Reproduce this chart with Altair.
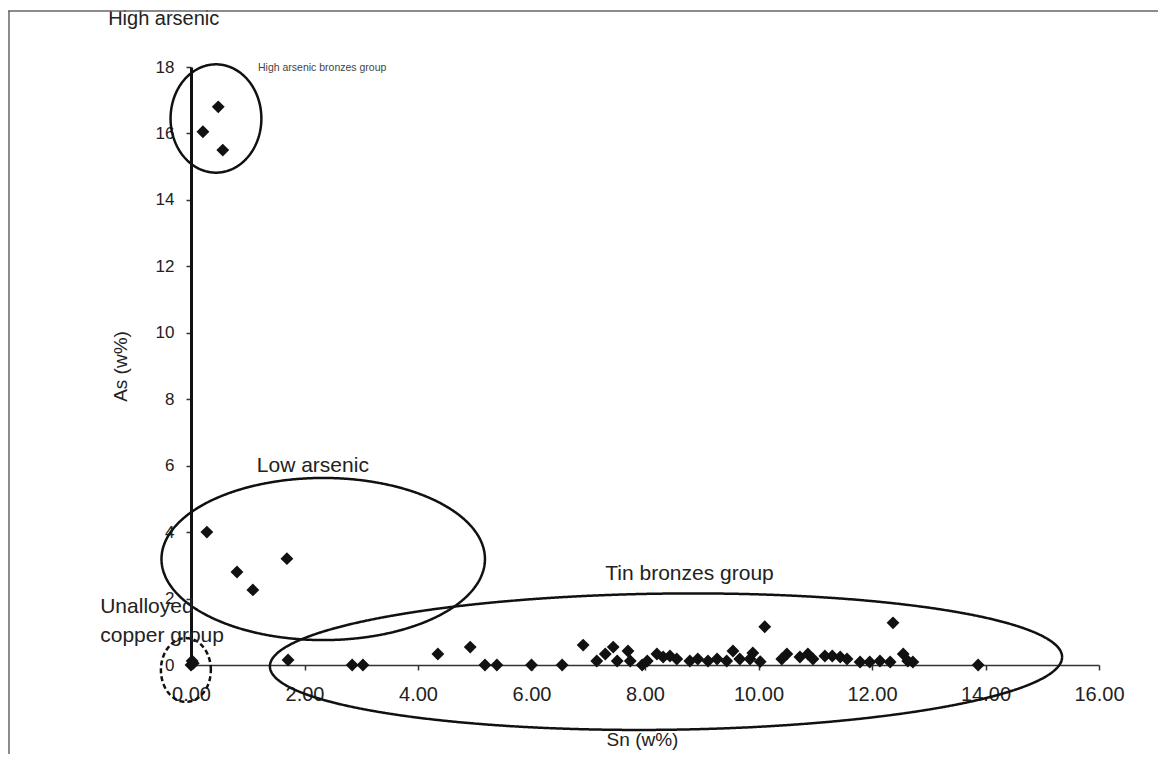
import altair as alt
import numpy as np
import pandas as pd

# ---- data ----
high_sn = [0.48, 0.21, 0.56]
high_as = [16.80, 16.05, 15.50]

low_sn = [0.28, 0.81, 1.09, 1.69]
low_as = [4.00, 2.80, 2.26, 3.20]

unal_sn = [0.00, 0.04, 0.02]
unal_as = [0.00, 0.05, 0.12]

tin_sn = [1.71, 2.84, 3.03, 4.35, 4.92, 5.18, 5.39, 6.00, 6.54, 6.91,
          7.15, 7.30, 7.44, 7.51, 7.70, 7.74, 7.95, 8.04, 8.21, 8.32,
          8.44, 8.56, 8.79, 8.93, 9.11, 9.27, 9.44, 9.55, 9.67, 9.85,
          9.90, 10.03, 10.11, 10.41, 10.50, 10.73, 10.87, 10.96, 11.17, 11.30,
          11.44, 11.56, 11.79, 11.96, 12.14, 12.32, 12.37, 12.55, 12.63, 12.72,
          13.87]
tin_as = [0.15, 0.00, 0.00, 0.33, 0.54, 0.00, 0.00, 0.00, 0.00, 0.60,
          0.12, 0.33, 0.54, 0.12, 0.42, 0.12, 0.00, 0.12, 0.33, 0.24,
          0.27, 0.18, 0.12, 0.18, 0.12, 0.18, 0.12, 0.42, 0.18, 0.18,
          0.36, 0.10, 1.15, 0.18, 0.33, 0.24, 0.33, 0.18, 0.27, 0.27,
          0.24, 0.18, 0.09, 0.09, 0.12, 0.09, 1.27, 0.33, 0.12, 0.09,
          0.00]

x_ticks = [0, 2, 4, 6, 8, 10, 12, 14, 16]
y_ticks = [0, 2, 4, 6, 8, 10, 12, 14, 16, 18]

# group ellipses (annotation outlines, in data units)
ell_names = ["high", "low", "unalloyed", "tin"]
ell_cx = [0.44, 2.33, -0.09, 8.37]
ell_cy = [16.45, 3.19, -0.15, 0.10]
ell_a = [0.80, 2.85, 0.44, 6.98]
ell_b = [1.63, 2.44, 0.96, 2.05]
ell_shear = [0.0, 0.0, 0.0, 0.02]

# annotation labels
lab_text = ["High arsenic", "High arsenic bronzes group", "Low arsenic",
            "Tin bronzes group", "Unalloyed", "copper group"]
lab_x = [-1.46, 1.18, 1.16, 7.30, -1.60, -1.60]
lab_y = [19.45, 17.98, 6.00, 2.74, 1.75, 0.87]
lab_size = [20, 10.5, 21, 21, 21, 21]
lab_color = ["#222222", "#444444", "#222222", "#222222", "#222222", "#222222"]

# ---- tables ----
pts = pd.DataFrame({
    "Sn": high_sn + low_sn + unal_sn + tin_sn,
    "As": high_as + low_as + unal_as + tin_as,
})

rows = []
t = np.linspace(0, 2 * np.pi, 241)
for n, cx, cy, a, b, k in zip(ell_names, ell_cx, ell_cy, ell_a, ell_b, ell_shear):
    ex = cx + a * np.cos(t)
    ey = cy + b * np.sin(t) + k * (ex - cx)
    for i, (xx, yy) in enumerate(zip(ex, ey)):
        rows.append({"name": n, "i": i, "Sn": xx, "As": yy})
ell = pd.DataFrame(rows)

labels = pd.DataFrame({"text": lab_text, "Sn": lab_x, "As": lab_y,
                       "size": lab_size, "color": lab_color})

W, H = 908, 598
xscale = alt.Scale(domain=[0, 16], nice=False, zero=False)
yscale = alt.Scale(domain=[0, 18], nice=False, zero=False)

xaxis = alt.Axis(values=x_ticks, format=".2f", grid=False, title="Sn (w%)",
                 domainColor="#333333", domainWidth=1.5, tickColor="#333333",
                 tickSize=5, tickWidth=1.5, labelFontSize=20, labelPadding=14,
                 labelFlush=False, labelOverlap=False, labelFont="Liberation Sans",
                 titleFont="Liberation Sans",
                 labelColor="#222222", titleFontSize=19, titleFontWeight="normal",
                 titleColor="#222222", titleX=451, titleY=74, titleBaseline="middle")
yaxis = alt.Axis(values=y_ticks, format="d", grid=False, title="As (w%)",
                 domainColor="#111111", domainWidth=3, tickColor="#333333",
                 tickSize=5, tickWidth=1.5, labelFontSize=17, labelPadding=12,
                 labelFlush=False, labelOverlap=False, labelFont="Liberation Sans",
                 titleFont="Liberation Sans",
                 labelColor="#222222", titleFontSize=19, titleFontWeight="normal",
                 titleColor="#222222", titleX=-71, titleY=299, titleBaseline="middle",
                 titleAlign="center", titleAngle=270)

base_x = alt.X("Sn:Q", scale=xscale, axis=xaxis)
base_y = alt.Y("As:Q", scale=yscale, axis=yaxis)

points = alt.Chart(pts).mark_point(shape="diamond", filled=True, size=165,
                                   color="#111111", opacity=1).encode(x=base_x, y=base_y)

ellipses = alt.Chart(ell).mark_line(color="#111111", strokeWidth=2.5).encode(
    x="Sn:Q", y="As:Q", detail="name:N", order="i:Q",
    strokeDash=alt.condition(alt.datum.name == "unalloyed",
                             alt.value([5, 3]), alt.value([1, 0])))

texts = alt.Chart(labels).mark_text(align="left", baseline="middle",
                                    font="Liberation Sans").encode(
    x="Sn:Q", y="As:Q", text="text:N",
    size=alt.Size("size:Q", scale=None),
    color=alt.Color("color:N", scale=None))

frame_top = alt.Chart(pd.DataFrame({"k": [0]})).mark_rule(color="#666666", strokeWidth=1.5).encode(
    x=alt.value(-183), x2=alt.value(W + 59), y=alt.value(-56))
frame_left = alt.Chart(pd.DataFrame({"k": [0]})).mark_rule(color="#666666", strokeWidth=1.5).encode(
    x=alt.value(-182), y=alt.value(-56), y2=alt.value(H + 89))

chart = alt.layer(points, ellipses, texts, frame_top, frame_left).properties(
    width=W, height=H,
    background="white",
    autosize=alt.AutoSizeParams(type="none"),
    padding={"left": 183, "top": 59, "right": 59, "bottom": 89},
).configure_view(stroke=None, strokeWidth=0)

chart.save("out.html", embed_options={"renderer": "svg", "actions": False})
